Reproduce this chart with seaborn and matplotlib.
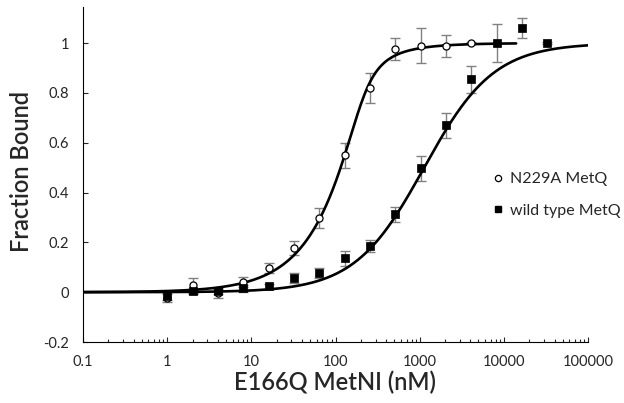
import numpy as np
import matplotlib
matplotlib.use("Agg")
import matplotlib.pyplot as plt
import matplotlib.ticker as mticker
from matplotlib.lines import Line2D
import seaborn as sns

# N229A MetQ (open circles), E166Q MetNI in nM
conc_n229a = [1, 2, 4, 8, 16, 32, 64, 128, 256, 512, 1024, 2048, 4096]
frac_n229a = [-0.024, 0.028, -0.003, 0.04, 0.096, 0.177, 0.297, 0.55, 0.82, 0.976, 0.99, 0.988, 1.0]
err_n229a = [0.015, 0.03, 0.02, 0.02, 0.02, 0.028, 0.04, 0.05, 0.06, 0.045, 0.07, 0.045, 0.005]

# wild type MetQ (filled squares)
conc_wt = [1, 2, 4, 8, 16, 32, 64, 128, 256, 512, 1024, 2048, 4096, 8192, 16384, 32768]
frac_wt = [-0.015, 0.004, 0.004, 0.015, 0.023, 0.056, 0.076, 0.136, 0.185, 0.313, 0.498, 0.67, 0.855, 1.0, 1.06, 1.0]
err_wt = [0.015, 0.01, 0.01, 0.015, 0.01, 0.02, 0.02, 0.03, 0.025, 0.03, 0.05, 0.05, 0.055, 0.077, 0.04, 0.005]

# fit parameters
n229a_protein = 196   # nM, quadratic (tight binding) fit
n229a_kd = 17
n229a_fit_end = 14000
wt_kd = 1130          # Hill fit
wt_hill = 1.05
wt_fit_end = 100000

x_ticks = [0.1, 1, 10, 100, 1000, 10000, 100000]
x_labels = ["0.1", "1", "10", "100", "1000", "10000", "100000"]
y_ticks = [-0.2, 0, 0.2, 0.4, 0.6, 0.8, 1]
y_labels = ["-0.2", "0", "0.2", "0.4", "0.6", "0.8", "1"]

sns.set_style("ticks")
plt.rcParams["font.family"] = ["Lato", "DejaVu Sans"]

# fitted curves
x1 = np.logspace(-1, np.log10(n229a_fit_end), 400)
s = n229a_protein + x1 + n229a_kd
y1 = (s - np.sqrt(s ** 2 - 4 * n229a_protein * x1)) / (2 * n229a_protein)
x2 = np.logspace(-1, np.log10(wt_fit_end), 400)
y2 = (x2 / wt_kd) ** wt_hill / (1 + (x2 / wt_kd) ** wt_hill)

fig = plt.figure(figsize=(6.24, 4.03), dpi=100)
ax = fig.add_axes([83 / 624, 1 - 342 / 403, 505 / 624, 335 / 403])

grey = "#808080"
ax.errorbar(conc_n229a, frac_n229a, yerr=err_n229a, fmt="none", ecolor=grey,
            elinewidth=1, capsize=3.3, capthick=1, zorder=2)
ax.errorbar(conc_wt, frac_wt, yerr=err_wt, fmt="none", ecolor=grey,
            elinewidth=1, capsize=3.3, capthick=1, zorder=2)

sns.lineplot(x=x1, y=y1, ax=ax, color="black", lw=1.9, sort=False, estimator=None, zorder=3)
sns.lineplot(x=x2, y=y2, ax=ax, color="black", lw=1.9, sort=False, estimator=None, zorder=3)

sns.scatterplot(x=conc_n229a, y=frac_n229a, ax=ax, marker="o", s=26, color="white",
                edgecolor="black", linewidth=0.9, zorder=4)
sns.scatterplot(x=conc_wt, y=frac_wt, ax=ax, marker="s", s=32, color="black",
                edgecolor="black", linewidth=0.5, zorder=4)

ax.set_xscale("log")
ax.set_xlim(0.1, 100000)
ax.set_ylim(-0.2, 1.145)
ax.set_xticks(x_ticks)
ax.set_xticklabels(x_labels)
ax.xaxis.set_minor_locator(mticker.LogLocator(base=10, subs=np.arange(2, 10), numticks=20))
ax.xaxis.set_minor_formatter(mticker.NullFormatter())
ax.set_yticks(y_ticks)
ax.set_yticklabels(y_labels)

ax.tick_params(axis="x", which="major", direction="in", length=3.3, width=0.8, pad=9, labelsize=10.5)
ax.tick_params(axis="x", which="minor", direction="in", length=2.4, width=0.8)
ax.tick_params(axis="y", which="major", direction="in", length=3.8, width=0.8, pad=10, labelsize=10.5)
for side in ["top", "right"]:
    ax.spines[side].set_visible(False)
for side in ["left", "bottom"]:
    ax.spines[side].set_linewidth(0.8)
    ax.spines[side].set_color("black")

ax.set_xlabel("E166Q MetNI (nM)", fontsize=17, fontweight="semibold")
ax.set_ylabel("Fraction Bound", fontsize=17, fontweight="semibold")
ax.xaxis.set_label_coords(0.5, -0.085)
ax.xaxis.label.set_va("top")
ax.yaxis.set_label_coords(-0.099, 0.51)

handles = [
    Line2D([], [], marker="o", ls="none", markersize=4.5, markerfacecolor="white",
           markeredgecolor="black", markeredgewidth=0.9),
    Line2D([], [], marker="s", ls="none", markersize=5, color="black"),
]
ax.legend(handles, ["N229A MetQ", "wild type MetQ"], loc="center left",
          bbox_to_anchor=(0.81, 0.439), frameon=False, fontsize=11.5,
          handlelength=0.8, handletextpad=0.3, labelspacing=1.1,
          borderaxespad=0, borderpad=0)

fig.savefig("out.png", dpi=100)
